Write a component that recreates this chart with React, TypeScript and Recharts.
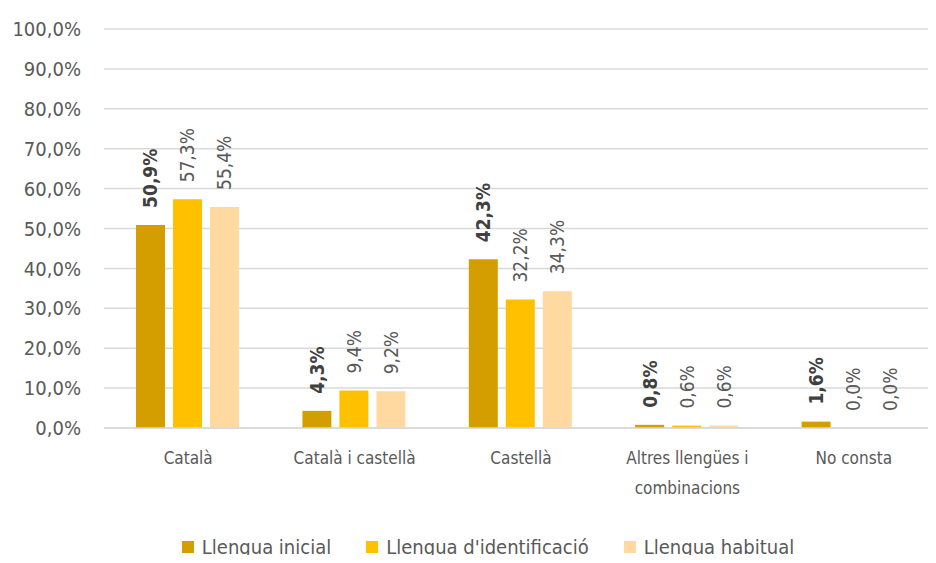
import { BarChart, Bar, XAxis, YAxis, CartesianGrid, Legend, LabelList, Text } from "recharts";

const categories = ["Català", "Català i castellà", "Castellà", "Altres llengües i combinacions", "No consta"];
const llenguaInicial = [50.9, 4.3, 42.3, 0.8, 1.6];
const llenguaIdentificacio = [57.3, 9.4, 32.2, 0.6, 0.0];
const llenguaHabitual = [55.4, 9.2, 34.3, 0.6, 0.0];
const yTicks = [0, 10, 20, 30, 40, 50, 60, 70, 80, 90, 100];

const seriesNames = ["Llengua inicial", "Llengua d'identificació", "Llengua habitual"];
const seriesColors = ["#D49E00", "#FFC000", "#FFD9A0"];

const data = categories.map((c, i) => ({
  name: c,
  inicial: llenguaInicial[i],
  identificacio: llenguaIdentificacio[i],
  habitual: llenguaHabitual[i],
}));

const FONT = "'DejaVu Sans Condensed', 'Liberation Sans Narrow', sans-serif";

const fmt = (v: number) => v.toFixed(1).replace(".", ",") + "%";

// rotated value label sitting just above the bar
function makeLabel(bold: boolean) {
  return (props: any) => {
    const { x, y, width, value } = props;
    const cx = x + width / 2;
    const cy = y - 17;
    return (
      <text
        x={cx}
        y={cy}
        transform={`rotate(-90, ${cx}, ${cy})`}
        textAnchor="start"
        dominantBaseline="central"
        fontFamily={FONT}
        fontSize={19}
        fontWeight={bold ? "bold" : "normal"}
        fill={bold ? "#404040" : "#595959"}
      >
        {fmt(value)}
      </text>
    );
  };
}

const XTick = (props: any) => {
  const { x, y, payload } = props;
  return (
    <Text
      x={x + 1}
      y={y + 24}
      width={150}
      textAnchor="middle"
      verticalAnchor="start"
      fontFamily={FONT}
      fontSize={17}
      fill="#595959"
      lineHeight={30}
    >
      {payload.value}
    </Text>
  );
};

const LegendContent = () => (
  <div
    style={{
      height: 55,
      boxSizing: "border-box",
      paddingTop: 23,
      paddingLeft: 40,
      display: "flex",
      justifyContent: "center",
      gap: 35,
      fontFamily: FONT,
      fontSize: 20,
      color: "#595959",
      lineHeight: "22px",
    }}
  >
    {seriesNames.map((n, i) => (
      <div key={n} style={{ display: "flex", alignItems: "center" }}>
        <span style={{ width: 12, height: 12, background: seriesColors[i], marginRight: 8, display: "inline-block" }} />
        <span>{n}</span>
      </div>
    ))}
  </div>
);

export default function App() {
  return (
    <div style={{ margin: -8, width: 936, height: 563, background: "#fff", position: "relative" }}>
      <BarChart
        width={936}
        height={563}
        data={data}
        margin={{ top: 29, right: 0, left: 0, bottom: 0 }}
        barSize={29}
        barGap={8}
      >
        <CartesianGrid vertical={false} stroke="#D9D9D9" strokeWidth={1.5} />
        <XAxis
          dataKey="name"
          height={80}
          tickSize={0}
          tickMargin={0}
          axisLine={{ stroke: "#D9D9D9", strokeWidth: 1.5 }}
          tickLine={false}
          tick={<XTick />}
          interval={0}
        />
        <YAxis
          width={104}
          domain={[0, 100]}
          ticks={yTicks}
          tickFormatter={fmt}
          axisLine={false}
          tickLine={false}
          tickSize={0}
          tickMargin={23}
          tick={{ fontFamily: FONT, fontSize: 20, fill: "#595959" }}
        />
        <Legend verticalAlign="bottom" content={<LegendContent />} />
        <Bar dataKey="inicial" name={seriesNames[0]} fill={seriesColors[0]} minPointSize={0.01} isAnimationActive={false}>
          <LabelList dataKey="inicial" content={makeLabel(true)} />
        </Bar>
        <Bar dataKey="identificacio" name={seriesNames[1]} fill={seriesColors[1]} minPointSize={0.01} isAnimationActive={false}>
          <LabelList dataKey="identificacio" content={makeLabel(false)} />
        </Bar>
        <Bar dataKey="habitual" name={seriesNames[2]} fill={seriesColors[2]} minPointSize={0.01} isAnimationActive={false}>
          <LabelList dataKey="habitual" content={makeLabel(false)} />
        </Bar>
      </BarChart>
    </div>
  );
}
